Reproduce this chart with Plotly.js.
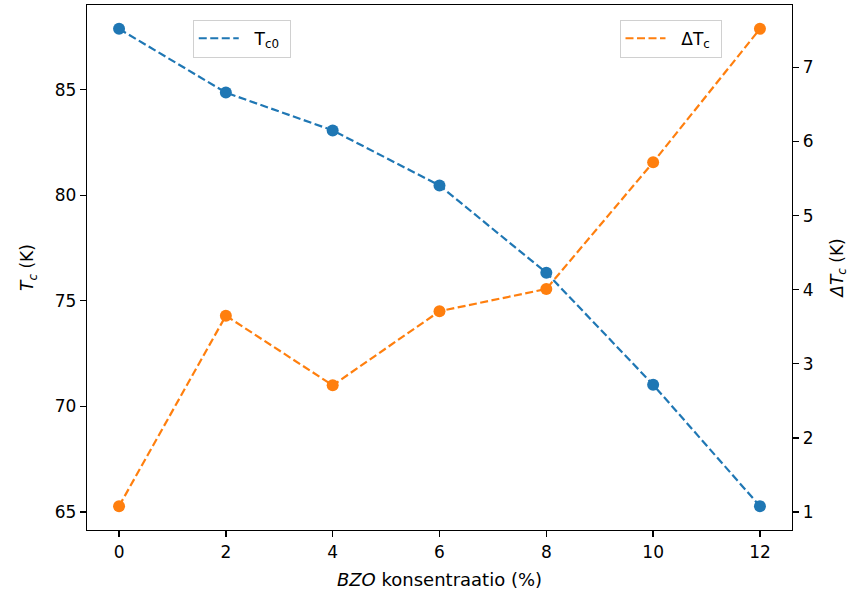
<!DOCTYPE html>
<html>
<head>
<meta charset="utf-8">
<script src="https://cdn.plot.ly/plotly-3.0.1.min.js"></script>
<style>
  html, body { margin: 0; padding: 0; background: #fff; }
  #chart { width: 851px; height: 596px; }
</style>
</head>
<body>
<div id="chart"></div>
<script>
// BZO concentration (%)
const concentration = [0, 2, 4, 6, 8, 10, 12];
// Critical temperature Tc0 (K), left axis
const tc0 = [87.88, 84.86, 83.07, 80.46, 76.33, 71.02, 65.27];
// Transition width ΔTc (K), right axis
const deltaTc = [1.08, 3.65, 2.71, 3.71, 4.01, 5.72, 7.52];

const xTicks = [0, 2, 4, 6, 8, 10, 12];
const leftTicks = [65, 70, 75, 80, 85];
const rightTicks = [1, 2, 3, 4, 5, 6, 7];

const blue = '#1f77b4';
const orange = '#ff7f0e';
const font = { family: 'DejaVu Sans, sans-serif', size: 17, color: '#000' };
const titleFont = { family: 'DejaVu Sans, sans-serif', size: 18, color: '#000' };
const dashStyle = '8px,3.5px';

const traces = [
  {
    x: concentration, y: tc0, name: 'T<sub>c0</sub>',
    type: 'scatter', mode: 'lines+markers', showlegend: false,
    line: { color: blue, width: 2.2, dash: dashStyle },
    marker: { color: blue, size: 12 },
    yaxis: 'y'
  },
  {
    x: concentration, y: deltaTc, name: 'ΔT<sub>c</sub>',
    type: 'scatter', mode: 'lines+markers', showlegend: false,
    line: { color: orange, width: 2.2, dash: dashStyle },
    marker: { color: orange, size: 12 },
    yaxis: 'y2'
  },
  // legend entries: dashed line only
  {
    x: [null], y: [null], name: '  T<sub>c0</sub> ',
    type: 'scatter', mode: 'lines',
    line: { color: blue, width: 2.2, dash: dashStyle },
    yaxis: 'y', legend: 'legend'
  },
  {
    x: [null], y: [null], name: '  ΔT<sub>c</sub> ',
    type: 'scatter', mode: 'lines',
    line: { color: orange, width: 2.2, dash: dashStyle },
    yaxis: 'y2', legend: 'legend2'
  }
];

const axisCommon = {
  showgrid: false, zeroline: false,
  showline: true, linecolor: '#000', linewidth: 1.3,
  ticks: 'outside', ticklen: 6, tickwidth: 1.3, tickcolor: '#000',
  tickfont: font
};

const legendCommon = {
  bgcolor: 'rgba(255,255,255,0.8)', bordercolor: '#d0d0d0', borderwidth: 1,
  font: font, yanchor: 'top', y: 0.972, itemwidth: 40
};

const layout = {
  width: 851, height: 596,
  margin: { l: 87, r: 59, t: 5, b: 66 },
  paper_bgcolor: '#fff', plot_bgcolor: '#fff',
  font: font,
  showlegend: true,
  xaxis: Object.assign({}, axisCommon, {
    range: [-0.6, 12.6], tickvals: xTicks, mirror: true,
    title: { text: '<i>BZO</i> konsentraatio (%)', font: titleFont, standoff: 12 }
  }),
  yaxis: Object.assign({}, axisCommon, {
    range: [64.14, 89.01], tickvals: leftTicks,
    title: { text: '<i>T<sub>c</sub></i> (K)', font: font, standoff: 16 }
  }),
  yaxis2: Object.assign({}, axisCommon, {
    range: [0.758, 7.842], tickvals: rightTicks,
    overlaying: 'y', side: 'right',
    title: { text: '<i>ΔT<sub>c</sub></i> (K)', font: font, standoff: 18 }
  }),
  legend: Object.assign({}, legendCommon, { x: 0.15, xanchor: 'left' }),
  legend2: Object.assign({}, legendCommon, { x: 0.90, xanchor: 'right' })
};

Plotly.newPlot('chart', traces, layout, { displayModeBar: false, staticPlot: true });
</script>
</body>
</html>
